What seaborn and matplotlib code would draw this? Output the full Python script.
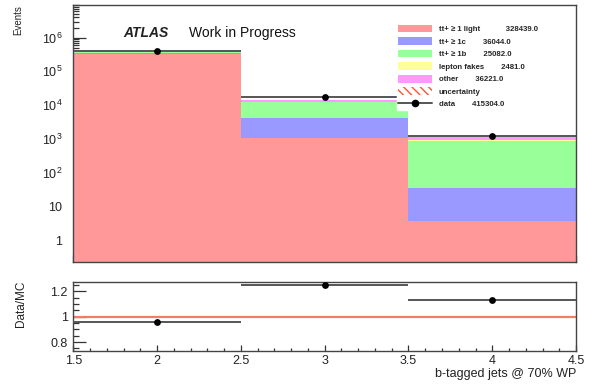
import numpy as np
import pandas as pd
import matplotlib
matplotlib.use("Agg")
import matplotlib.pyplot as plt
import seaborn as sns
from matplotlib.patches import Patch
from matplotlib.lines import Line2D
from matplotlib.ticker import FixedLocator, MultipleLocator, LogLocator, FuncFormatter, NullFormatter

# ---------------- data ----------------
bin_edges = [1.5, 2.5, 3.5, 4.5]
bin_centers = [2, 3, 4]
processes = ["tt+ \u2265 1 light", "tt+ \u2265 1c", "tt+ \u2265 1b", "lepton fakes", "other"]
light = [327365, 1070, 3.6]
c1 = [32840, 3170, 31]
b1 = [15887, 8360, 835]
fakes = [2300, 150, 31]
other = [34721, 1300, 200]
data = [396572, 17500, 1240]
legend_yields = ["328439.0", "36044.0", "25082.0", "2481.0", "36221.0"]
data_yield = "415304.0"
colors = ["#ff9999", "#9999ff", "#99ff99", "#ffff99", "#ff99ff"]

# ---------------- style ----------------
sns.set_style("white")
plt.rcParams["font.family"] = ["Liberation Sans", "DejaVu Sans"]
plt.rcParams["mathtext.fontset"] = "custom"
plt.rcParams["mathtext.rm"] = "Liberation Sans"
plt.rcParams["mathtext.it"] = "Liberation Sans:italic"
plt.rcParams["mathtext.bf"] = "Liberation Sans:bold"
plt.rcParams["hatch.linewidth"] = 1.0

fig = plt.figure(figsize=(6.01, 3.89), dpi=100)
ax = fig.add_axes([0.122, 0.3272, 0.8365, 0.6607])
ax2 = fig.add_axes([0.122, 0.0977, 0.8365, 0.1761])

# ---------------- main stacked histogram ----------------
series = [light, c1, b1, fakes, other]
rows = []
for name, vals in zip(processes, series):
    for x, v in zip(bin_centers, vals):
        rows.append({"x": x, "w": v, "proc": name})
df = pd.DataFrame(rows)

ax.set_yscale("log")
sns.histplot(data=df, x="x", weights="w", hue="proc",
             hue_order=processes[::-1], multiple="stack", bins=bin_edges,
             palette=dict(zip(processes, colors)), alpha=1, linewidth=0,
             element="bars", legend=False, ax=ax, zorder=1)

total_mc = np.sum(np.array(series, dtype=float), axis=0)

# data points
ax.errorbar(bin_centers, data, xerr=0.5, fmt="none", ecolor="#555555",
            elinewidth=1.4, capsize=0, zorder=3)
sns.scatterplot(x=bin_centers, y=data, color="black", s=24, linewidth=0,
                ax=ax, zorder=4, legend=False)

ax.set_xlim(1.5, 4.5)
ax.set_ylim(0.227, 9.5e6)

def logfmt(v, pos):
    if v <= 0:
        return ""
    e = int(round(np.log10(v)))
    if abs(v - 10 ** e) > 1e-6 * v:
        return ""
    if e == 0:
        return "1"
    if e == 1:
        return "10"
    return r"$\mathregular{10^{%d}}$" % e

ax.yaxis.set_major_locator(LogLocator(base=10, numticks=20))
ax.yaxis.set_minor_locator(LogLocator(base=10, subs=np.arange(2, 10), numticks=100))
ax.yaxis.set_major_formatter(FuncFormatter(logfmt))
ax.yaxis.set_minor_formatter(NullFormatter())
ax.xaxis.set_major_locator(MultipleLocator(0.5))
ax.xaxis.set_minor_locator(MultipleLocator(0.1))
ax.tick_params(axis="x", which="both", direction="in", labelbottom=False,
               top=False, bottom=True, color="#333333")
ax.tick_params(axis="x", which="major", length=5, width=0.9)
ax.tick_params(axis="x", which="minor", length=2.8, width=0.9)
ax.tick_params(axis="y", which="both", direction="in", left=True, right=False,
               color="#333333", labelsize=9, labelcolor="#222222")
ax.tick_params(axis="y", which="major", length=9.5, width=0.9, pad=8)
ax.tick_params(axis="y", which="minor", length=4.3, width=0.9)
ax.set_xlabel("")
ax.set_ylabel("Events", loc="top", fontsize=7, color="#222222")
ax.yaxis.set_label_coords(-0.100, 1.0)
for s in ax.spines.values():
    s.set_color("#444444")
    s.set_linewidth(1.0)
    s.set_zorder(6)

ax.text(0.099, 0.89, "ATLAS", transform=ax.transAxes, fontsize=10,
        fontweight="bold", fontstyle="italic", va="center", ha="left", color="#222222")
ax.text(0.230, 0.89, "Work in Progress", transform=ax.transAxes, fontsize=10,
        va="center", ha="left", color="#111111")

# legend
handles = [Patch(facecolor=c, edgecolor="none") for c in colors]
handles.append(Patch(facecolor="none", edgecolor="#ff5533", hatch="\\\\\\\\", linewidth=0))
handles.append(Line2D([], [], color="#555555", lw=1.4, marker="o", markersize=4.5,
                      markerfacecolor="black", markeredgecolor="black"))
gaps = [12, 8, 8, 8, 8]
labels = [p + " " * g + y for p, g, y in zip(processes, gaps, legend_yields)]
labels.append("uncertainty")
labels.append("data" + " " * 8 + data_yield)
leg = ax.legend(handles, labels, loc="upper left", bbox_to_anchor=(0.636, 0.942),
                frameon=True, fancybox=False, facecolor="white", edgecolor="white",
                framealpha=1, borderpad=0.15, handlelength=4.4, handleheight=1.15,
                handletextpad=0.8, labelspacing=0.52,
                prop={"family": ["Liberation Sans", "DejaVu Sans"], "weight": "bold", "size": 5.6})
leg.set_zorder(5)

# ---------------- ratio panel ----------------
ratio = np.array(data, dtype=float) / total_mc
ax2.axhline(1.0, color="#f27d65", lw=1.6, zorder=1)
ax2.errorbar(bin_centers, ratio, xerr=0.5, fmt="none", ecolor="#555555",
             elinewidth=1.4, capsize=0, zorder=3)
sns.scatterplot(x=bin_centers, y=ratio, color="black", s=24, linewidth=0,
                ax=ax2, zorder=4, legend=False)
ax2.set_xlim(1.5, 4.5)
ax2.set_ylim(0.73, 1.268)
ax2.yaxis.set_major_locator(FixedLocator([0.8, 1.0, 1.2]))
ax2.yaxis.set_minor_locator(MultipleLocator(0.05))
ax2.yaxis.set_major_formatter(FuncFormatter(lambda v, p: "%g" % round(v, 2)))
ax2.xaxis.set_major_locator(MultipleLocator(0.5))
ax2.xaxis.set_minor_locator(MultipleLocator(0.1))
ax2.xaxis.set_major_formatter(FuncFormatter(lambda v, p: "%g" % round(v, 2)))
ax2.tick_params(axis="both", which="both", direction="in", color="#333333",
                labelsize=9, labelcolor="#222222", top=False, right=False,
                left=True, bottom=True)
ax2.tick_params(axis="x", which="major", length=4.5, width=0.9, pad=3)
ax2.tick_params(axis="x", which="minor", length=2.2, width=0.9)
ax2.tick_params(axis="y", which="major", length=9, width=0.9, pad=4)
ax2.tick_params(axis="y", which="minor", length=4, width=0.9)
ax2.set_ylabel("Data/MC", loc="top", fontsize=8.5, color="#222222")
ax2.yaxis.set_label_coords(-0.092, 1.03)
ax2.set_xlabel("b-tagged jets @ 70% WP", loc="right", fontsize=9, color="#222222")
ax2.xaxis.set_label_coords(1.0, -0.25)
for s in ax2.spines.values():
    s.set_color("#444444")
    s.set_linewidth(1.0)

fig.savefig("out.png", dpi=100)
